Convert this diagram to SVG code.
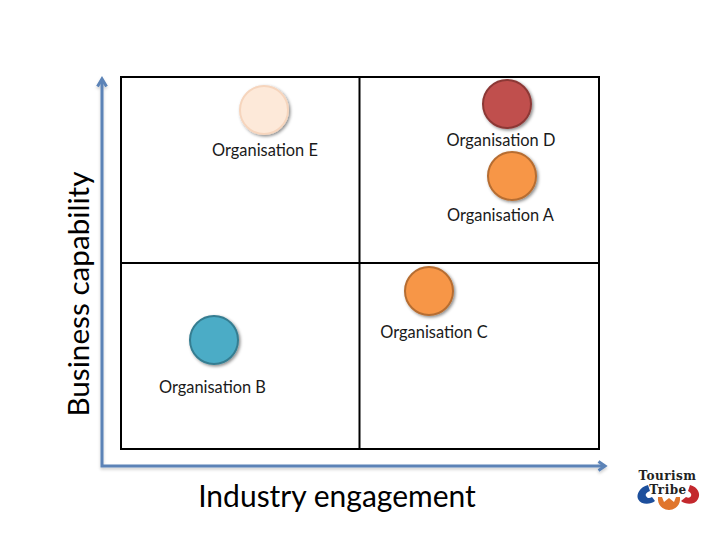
<svg xmlns="http://www.w3.org/2000/svg" width="720" height="540" viewBox="0 0 720 540">
<style>
.lbl{font-family:"Lato","Carlito","Open Sans",sans-serif;font-size:16.400px;fill:#1a1a1a;text-anchor:middle}
.ax{font-family:"Lato","Carlito","Open Sans",sans-serif;font-size:30px;fill:#000;text-anchor:middle}
.axv{font-family:"Lato","Carlito","Open Sans",sans-serif;font-size:29.700px;fill:#000;text-anchor:middle}
.grid{fill:none;stroke:#000;stroke-width:2}
.axis{fill:none;stroke:#5b83b7;stroke-width:3}
.head{fill:none;stroke:#5b83b7;stroke-width:3}
.dot{stroke-width:2;filter:url(#sh)}
.logo{font-family:"DejaVu Serif","Liberation Serif",serif;font-weight:bold;font-size:12px;letter-spacing:.5px;fill:#222;text-anchor:middle}
</style>
<defs>
<filter id="sh" x="-30%" y="-30%" width="170%" height="170%"><feDropShadow dx="1.5" dy="1.5" stdDeviation="1.5" flood-color="#000" flood-opacity=".45"/></filter>
<filter id="sl" x="-5%" y="-5%" width="110%" height="110%"><feDropShadow dx="0" dy="2" stdDeviation="1.5" flood-color="#000" flood-opacity=".2"/></filter>
</defs>
<rect width="720" height="540" fill="#fff"/>
<g id="connectors" filter="url(#sl)">
<path class="axis" d="M102 81V466H604"/>
<path class="head" d="M97.500 86.500L102 79L106.500 86.500M598.500 461.500L605 466L598.500 470.500"/>
</g>
<g id="matrix">
<rect class="grid" x="121" y="77" width="478" height="372"/>
<path class="grid" d="M359.500 77V449M121 263H599"/>
</g>
<g id="org-e"><circle class="dot" cx="264" cy="110" r="24" fill="#fde9d9" stroke="#f6d5bd"/><text class="lbl" x="265" y="156">Organisation E</text></g>
<g id="org-d"><circle class="dot" cx="507" cy="104" r="24" fill="#c0504d" stroke="#8c3836"/><text class="lbl" x="501" y="146">Organisation D</text></g>
<g id="org-a"><circle class="dot" cx="512" cy="176" r="24" fill="#f79646" stroke="#b66d31"/><text class="lbl" x="500.500" y="220.500">Organisation A</text></g>
<g id="org-c"><circle class="dot" cx="429" cy="291" r="24" fill="#f79646" stroke="#b66d31"/><text class="lbl" x="434" y="337.500">Organisation C</text></g>
<g id="org-b"><circle class="dot" cx="214" cy="340" r="24" fill="#4bacc6" stroke="#357d91"/><text class="lbl" x="212.500" y="392.500">Organisation B</text></g>
<text class="ax" x="337" y="507">Industry engagement</text>
<text class="axv" transform="translate(88.500 294) rotate(-90)">Business capability</text>
<g id="logo">
<text class="logo" x="667.500" y="480">Tourism</text>
<text class="logo" x="668" y="494">Tribe</text>
<path d="M648 485C640 487 636 494 638 499C641 505 650 505 655 501L652 497C649 499 647 498 646 496C645 494 647 492 650 491Z" fill="#1d4f9c"/>
<path d="M658 497C657 505 663 510 669 510C675 510 681 505 680 497L676 497L674 502L669 498L664 502L662 497Z" fill="#e0752b"/>
<path d="M690 485C698 487 701 494 698 499C695 505 686 505 681 501L686 497C688 498 690 498 691 496C692 494 690 492 688 491Z" fill="#c3282d"/>
</g>
</svg>
